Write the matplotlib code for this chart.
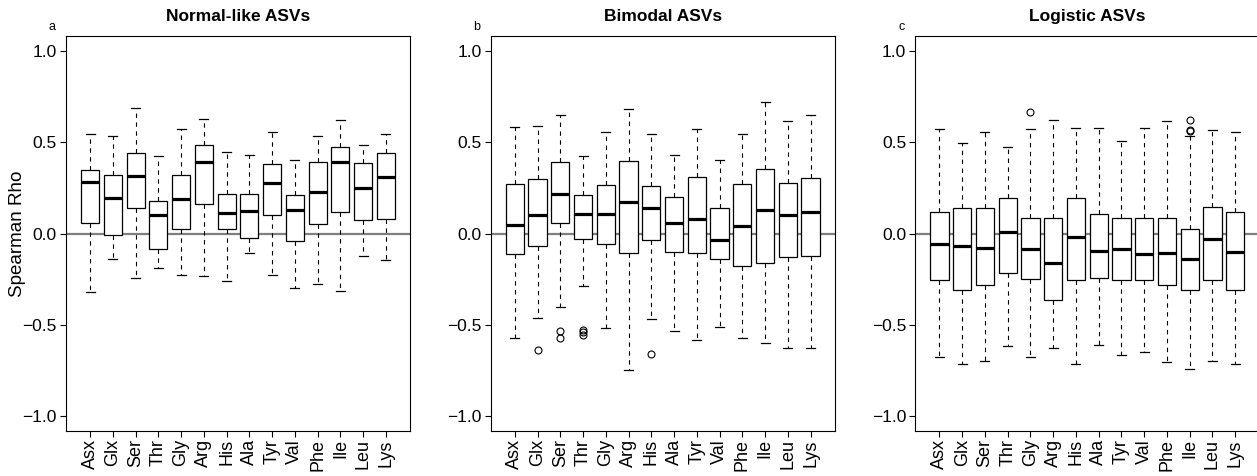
import matplotlib
matplotlib.use("Agg")
import matplotlib.pyplot as plt

plt.rcParams['font.family'] = ['Liberation Sans', 'DejaVu Sans']

amino = ["Asx", "Glx", "Ser", "Thr", "Gly", "Arg", "His", "Ala", "Tyr", "Val", "Phe", "Ile", "Leu", "Lys"]

# Panel a: Normal-like ASVs
a_whislo = [-0.319, -0.142, -0.245, -0.186, -0.226, -0.235, -0.259, -0.109, -0.226, -0.296, -0.276, -0.316, -0.122, -0.144]
a_q1 = [0.058, -0.007, 0.139, -0.086, 0.024, 0.164, 0.024, -0.026, 0.100, -0.040, 0.053, 0.120, 0.075, 0.078]
a_med = [0.279, 0.192, 0.312, 0.099, 0.188, 0.392, 0.111, 0.124, 0.274, 0.130, 0.226, 0.389, 0.250, 0.308]
a_q3 = [0.347, 0.318, 0.442, 0.179, 0.318, 0.482, 0.214, 0.214, 0.378, 0.210, 0.391, 0.471, 0.383, 0.442]
a_whishi = [0.546, 0.535, 0.684, 0.422, 0.569, 0.628, 0.445, 0.427, 0.557, 0.400, 0.531, 0.620, 0.482, 0.546]
a_fliers = [[], [], [], [], [], [], [], [], [], [], [], [], [], []]

# Panel b: Bimodal ASVs
b_whislo = [-0.571, -0.460, -0.403, -0.286, -0.518, -0.746, -0.469, -0.533, -0.582, -0.509, -0.573, -0.600, -0.624, -0.628]
b_q1 = [-0.111, -0.068, 0.057, -0.029, -0.060, -0.104, -0.036, -0.102, -0.109, -0.141, -0.175, -0.161, -0.126, -0.122]
b_med = [0.049, 0.100, 0.214, 0.109, 0.108, 0.170, 0.141, 0.055, 0.082, -0.036, 0.042, 0.128, 0.102, 0.119]
b_q3 = [0.268, 0.297, 0.389, 0.208, 0.263, 0.396, 0.261, 0.199, 0.308, 0.137, 0.268, 0.350, 0.276, 0.305]
b_whishi = [0.582, 0.588, 0.650, 0.425, 0.553, 0.679, 0.544, 0.432, 0.571, 0.401, 0.544, 0.717, 0.615, 0.650]
b_fliers = [[], [-0.637], [-0.531, -0.573], [-0.527, -0.540, -0.557], [], [], [-0.657], [], [], [], [], [], [], []]

# Panel c: Logistic ASVs
c_whislo = [-0.677, -0.714, -0.695, -0.613, -0.675, -0.624, -0.712, -0.611, -0.662, -0.648, -0.701, -0.739, -0.695, -0.714]
c_q1 = [-0.252, -0.308, -0.281, -0.215, -0.250, -0.363, -0.252, -0.243, -0.254, -0.252, -0.281, -0.308, -0.252, -0.308]
c_med = [-0.055, -0.068, -0.078, 0.007, -0.084, -0.162, -0.020, -0.095, -0.084, -0.111, -0.104, -0.141, -0.029, -0.102]
c_q3 = [0.115, 0.139, 0.139, 0.195, 0.084, 0.084, 0.195, 0.108, 0.084, 0.084, 0.084, 0.027, 0.144, 0.115]
c_whishi = [0.573, 0.495, 0.555, 0.474, 0.571, 0.620, 0.575, 0.575, 0.505, 0.575, 0.613, 0.531, 0.566, 0.557]
c_fliers = [[], [], [], [], [0.664], [], [], [], [], [], [], [0.622, 0.564, 0.560], [], []]

titles = ["Normal-like ASVs", "Bimodal ASVs", "Logistic ASVs"]
letters = ["a", "b", "c"]
yticks = [-1.0, -0.5, 0.0, 0.5, 1.0]
ytick_labels = ["\u22121.0", "\u22120.5", "0.0", "0.5", "1.0"]

panels = [
    (a_whislo, a_q1, a_med, a_q3, a_whishi, a_fliers),
    (b_whislo, b_q1, b_med, b_q3, b_whishi, b_fliers),
    (c_whislo, c_q1, c_med, c_q3, c_whishi, c_fliers),
]

W, H = 1257, 476
fig = plt.figure(figsize=(W / 100, H / 100), dpi=100)

lefts = [66, 490.7, 915.3]
ax_w = 344
ax_top, ax_bot = 36, 431

for i, (wlo, q1, med, q3, whi, fl) in enumerate(panels):
    ax = fig.add_axes([lefts[i] / W, (H - ax_bot) / H, ax_w / W, (ax_bot - ax_top) / H])
    stats = []
    for k in range(len(amino)):
        stats.append(dict(whislo=wlo[k], q1=q1[k], med=med[k], q3=q3[k], whishi=whi[k],
                          fliers=fl[k], label=amino[k]))
    ax.axhline(0, color="#7f7f7f", lw=1.6, zorder=0)
    ax.bxp(stats, positions=list(range(1, len(amino) + 1)), widths=0.8,
           patch_artist=True, showfliers=True,
           boxprops=dict(facecolor="white", edgecolor="black", linewidth=0.9),
           medianprops=dict(color="black", linewidth=2.3, solid_capstyle="butt"),
           whiskerprops=dict(color="black", linewidth=0.8, linestyle=(0, (4, 4))),
           capprops=dict(color="black", linewidth=0.9),
           capwidths=0.4,
           flierprops=dict(marker="o", markersize=5, markerfacecolor="none",
                           markeredgecolor="black", markeredgewidth=0.8, linestyle="none"))
    ax.set_xlim(-0.06, 15.06)
    ax.set_ylim(-1.08, 1.08)
    ax.set_yticks(yticks)
    ax.set_yticklabels(ytick_labels, fontsize=12.5)
    ax.set_xticks(list(range(1, len(amino) + 1)))
    ax.set_xticklabels(amino, rotation=90, fontsize=13)
    ax.tick_params(axis="both", direction="out", length=4.5, width=0.8, color="black")
    ax.tick_params(axis="x", pad=1.5)
    ax.tick_params(axis="y", pad=2)
    for s in ax.spines.values():
        s.set_linewidth(0.8)
        s.set_color("black")
    ax.set_title(titles[i], fontsize=12.5, fontweight="bold", pad=11)
    ax.text(-0.04, 1.008, letters[i], transform=ax.transAxes, fontsize=9,
            ha="center", va="bottom")
    if i == 0:
        ax.set_ylabel("Spearman Rho", fontsize=13.5)
        ax.yaxis.set_label_coords(-0.117, 0.5)

fig.savefig("out.png", dpi=100)
